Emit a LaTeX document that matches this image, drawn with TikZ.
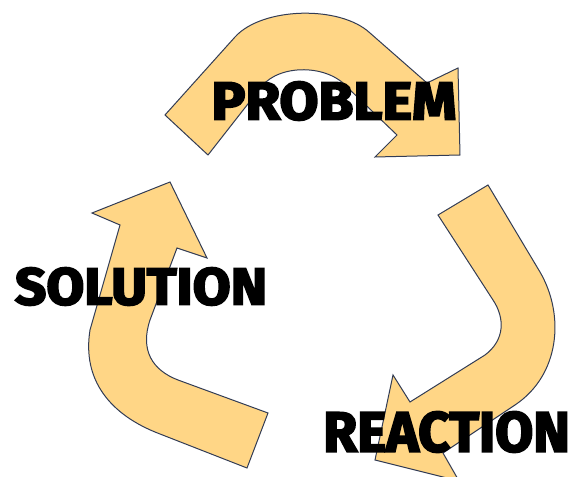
\documentclass[tikz,border=0pt]{standalone}
\usepackage{fontspec}
\newfontfamily\heavyfont{Fira Sans}[FakeBold=3.5]
\definecolor{arrowfill}{RGB}{255,214,134}
\definecolor{arrowline}{RGB}{50,60,85}
\begin{document}
\begin{tikzpicture}[x=0.75pt,y=-0.75pt]
    \tikzset{arrowpart/.style={fill=arrowfill,draw=arrowline,line width=0.75pt},
        word/.style={inner sep=0pt,font=\heavyfont\bfseries}}
    \def \picw{576}
    \def \pich{477}
    \useasboundingbox (0,0) rectangle (\picw,\pich);
    \begin{scope}
        \clip (0,0) rectangle (\picw,\pich);
        % top arrow
        \draw[arrowpart] (165,115) -- (208,155) -- (262,86) .. controls (280,64) and (328,64) .. (348,88)
            -- (397,135) -- (375,157) -- (460,155) -- (458,68) -- (427,83)
            -- (370,33) .. controls (340,5) and (262,7) .. (235,37) -- cycle;
        % left arrow
        \draw[arrowpart] (268,413) -- (247,468) -- (160,434) .. controls (110,415) and (82,380) .. (90,330)
            -- (120,225) -- (92,213) -- (170,182) -- (207,258) -- (177,248)
            -- (150,320) .. controls (140,350) and (152,370) .. (178,380) -- cycle;
        % right arrow
        \draw[arrowpart] (438,215) -- (488,185) -- (540,272) .. controls (565,315) and (560,375) .. (515,405)
            -- (443,453) -- (459,481) -- (375,460) -- (393,375) -- (410,402)
            -- (485,355) .. controls (505,340) and (505,318) .. (493,300) -- cycle;
    \end{scope}
    \node[word] (problem) at (334,101) {\resizebox{183.75pt}{28.5pt}{PROBLEM}};
    \node[word] (solution) at (141,286.5) {\resizebox{189pt}{27.75pt}{SOLUTION}};
    \node[word] (reaction) at (446.5,432) {\resizebox{185pt}{30pt}{REACTION}};
\end{tikzpicture}
\end{document}
